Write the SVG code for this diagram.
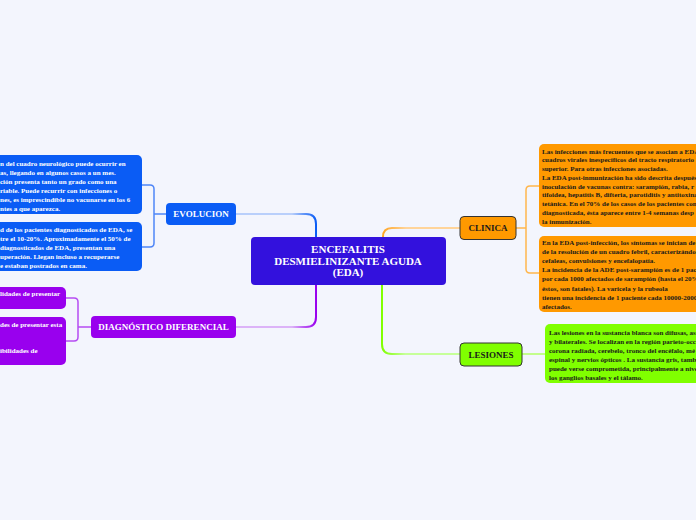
<svg xmlns="http://www.w3.org/2000/svg" width="696" height="520" viewBox="0 0 696 520">
<defs>
<linearGradient id="gBlue" gradientUnits="userSpaceOnUse" x1="236" y1="0" x2="316" y2="0"><stop offset="0" stop-color="#b9cffb"/><stop offset="0.7" stop-color="#b9cffb"/><stop offset="1" stop-color="#0a5cf5"/></linearGradient>
<linearGradient id="gPurple" gradientUnits="userSpaceOnUse" x1="236" y1="0" x2="316" y2="0"><stop offset="0" stop-color="#dcb3f8"/><stop offset="0.7" stop-color="#dcb3f8"/><stop offset="1" stop-color="#9900ee"/></linearGradient>
<linearGradient id="gOrange" gradientUnits="userSpaceOnUse" x1="383" y1="0" x2="460" y2="0"><stop offset="0" stop-color="#ffa626"/><stop offset="0.3" stop-color="#ffd49a"/><stop offset="1" stop-color="#ffd49a"/></linearGradient>
<linearGradient id="gGreen" gradientUnits="userSpaceOnUse" x1="382" y1="0" x2="460" y2="0"><stop offset="0" stop-color="#80ff00"/><stop offset="0.3" stop-color="#c6ff99"/><stop offset="1" stop-color="#c6ff99"/></linearGradient>
</defs>
<style>
text{font-family:"Liberation Serif","Times New Roman",serif;font-weight:bold}
.main{font-size:11px;fill:#ffffff;text-anchor:middle}
.topic{font-size:9px;text-anchor:middle}
.w{fill:#ffffff}
.d{fill:#1a1a1a}
.small{font-size:7px}
.conn{fill:none;stroke-width:2}
.br{fill:none;stroke-width:1.5}
</style>
<rect width="696" height="520" fill="#f3f5fd"/>
<g id="connectors">
<path class="conn" stroke="url(#gBlue)" d="M316,237 V224 Q316,214 306,214 H236"/>
<path class="conn" stroke="url(#gPurple)" d="M316,285 V317 Q316,327 306,327 H236"/>
<path class="conn" stroke="url(#gOrange)" d="M383,237 Q383,228 392,228 H460"/>
<path class="conn" stroke="url(#gGreen)" d="M382,285 V344 Q382,354 392,354 H460"/>
<path class="br" stroke="#4f86f7" d="M166,214 H154 M142,185 H150 Q154,185 154,189 V243 Q154,247 150,247 H142"/>
<path class="br" stroke="#b64cf2" d="M91,327 H78 M66,298 H74 Q78,298 78,302 V337 Q78,341 74,341 H66"/>
<path class="br" stroke="#ffb64d" d="M516,228 H526 M539,186 H530 Q526,186 526,190 V269 Q526,273 530,273 H539"/>
<path class="br" stroke="#b3ff66" d="M522,354 H545"/>
</g>
<g id="center">
<rect x="251" y="237" width="195" height="48" rx="4" fill="#3311dd"/>
<text class="main" x="348" y="253">ENCEFALITIS</text>
<text class="main" x="348" y="265">DESMIELINIZANTE AGUDA</text>
<text class="main" x="348" y="276">(EDA)</text>
</g>
<g id="evolucion">
<rect x="166" y="203" width="70" height="22" rx="4" fill="#0a5cf5"/>
<text class="topic w" x="201" y="217">EVOLUCION</text>
</g>
<g id="diagnostico">
<rect x="91" y="316" width="145" height="22" rx="4" fill="#9900ee"/>
<text class="topic w" x="163.5" y="330">DIAGNÓSTICO DIFERENCIAL</text>
</g>
<g id="clinica">
<rect x="460" y="216.5" width="56" height="23" rx="4" fill="#ff9900" stroke="#333" stroke-width="1"/>
<text class="topic d" x="488" y="231">CLINICA</text>
</g>
<g id="lesiones">
<rect x="460" y="343" width="62" height="23" rx="4" fill="#80ff00" stroke="#333" stroke-width="1"/>
<text class="topic d" x="491" y="358">LESIONES</text>
</g>
<g id="evolucion-1">
<rect x="-20" y="155" width="162" height="59" rx="5" fill="#0a5cf5"/>
<text class="small w" x="0" y="166">n del cuadro neurológico puede ocurrir en</text>
<text class="small w" x="0" y="175">as, llegando en algunos casos a un mes.</text>
<text class="small w" x="0" y="184">ción presenta tanto un grado como una</text>
<text class="small w" x="0" y="193">riable. Puede recurrir con infecciones o</text>
<text class="small w" x="0" y="202">nes, es imprescindible no vacunarse en los 6</text>
<text class="small w" x="0" y="211">ntes a que aparezca.</text>
</g>
<g id="evolucion-2">
<rect x="-20" y="222" width="162" height="49" rx="5" fill="#0a5cf5"/>
<text class="small w" x="0" y="232">d de los pacientes diagnosticados de EDA, se</text>
<text class="small w" x="0" y="241">tre el 10-20%. Aproximadamente el 50% de</text>
<text class="small w" x="0" y="250"> diagnosticados de EDA, presentan una</text>
<text class="small w" x="0" y="259">uperación. Llegan incluso a recuperarse</text>
<text class="small w" x="0" y="268">e estaban postrados en cama.</text>
</g>
<g id="diagnostico-1">
<rect x="-20" y="287" width="86" height="22" rx="5" fill="#9900ee"/>
<text class="small w" x="0" y="296">lidades de presentar</text>
</g>
<g id="diagnostico-2">
<rect x="-20" y="317" width="86" height="48" rx="5" fill="#9900ee"/>
<text class="small w" x="0" y="327">des de presentar esta</text>
<text class="small w" x="0" y="353">ibilidades de</text>
</g>
<g id="clinica-1">
<rect x="539" y="144" width="180" height="83" rx="5" fill="#ff9900"/>
<text class="small d" x="542" y="153.5">Las infecciones más frecuentes que se asocian a EDA</text>
<text class="small d" x="542" y="162.3">cuadros virales inespecíficos del tracto respiratorio</text>
<text class="small d" x="542" y="171">superior. Para otras infecciones asociadas.</text>
<text class="small d" x="542" y="179.8">La EDA post-inmunización ha sido descrita después</text>
<text class="small d" x="542" y="188.5">inoculación de vacunas contra: sarampión, rabia, r</text>
<text class="small d" x="542" y="197.3">tifoidea, hepatitis B, difteria, parotiditis y antitoxina</text>
<text class="small d" x="542" y="206">tetánica. En el 70% de los casos de los pacientes con</text>
<text class="small d" x="542" y="214.8">diagnosticada, ésta aparece entre 1-4 semanas desp</text>
<text class="small d" x="542" y="223.5">la inmunización.</text>
</g>
<g id="clinica-2">
<rect x="539" y="236" width="180" height="76" rx="5" fill="#ff9900"/>
<text class="small d" x="542" y="244.5">En la EDA post-infección, los síntomas se inician de</text>
<text class="small d" x="542" y="253.7">de la resolución de un cuadro febril, caracterizándo</text>
<text class="small d" x="542" y="262.9">cefaleas, convulsiones y encefalopatía.</text>
<text class="small d" x="542" y="272.1">La incidencia de la ADE post-sarampión es de 1 pac</text>
<text class="small d" x="542" y="281.3">por cada 1000 afectados de sarampión (hasta el 20%</text>
<text class="small d" x="542" y="290.5">éstos, son fatales). La varicela y la rubeola</text>
<text class="small d" x="542" y="299.7">tienen una incidencia de 1 paciente cada 10000-2000</text>
<text class="small d" x="542" y="308.9">afectados.</text>
</g>
<g id="lesiones-1">
<rect x="545" y="324" width="180" height="59" rx="5" fill="#80ff00"/>
<text class="small d" x="549" y="335">Las lesiones en la sustancia blanca son difusas, as</text>
<text class="small d" x="549" y="344">y bilaterales. Se localizan en la región parieto-occ</text>
<text class="small d" x="549" y="353">corona radiada, cerebelo, tronco del encéfalo, mé</text>
<text class="small d" x="549" y="362">espinal y nervios ópticos . La sustancia gris, tamb</text>
<text class="small d" x="549" y="371">puede verse comprometida, principalmente a nive</text>
<text class="small d" x="549" y="380">los ganglios basales y el tálamo.</text>
</g>
</svg>
